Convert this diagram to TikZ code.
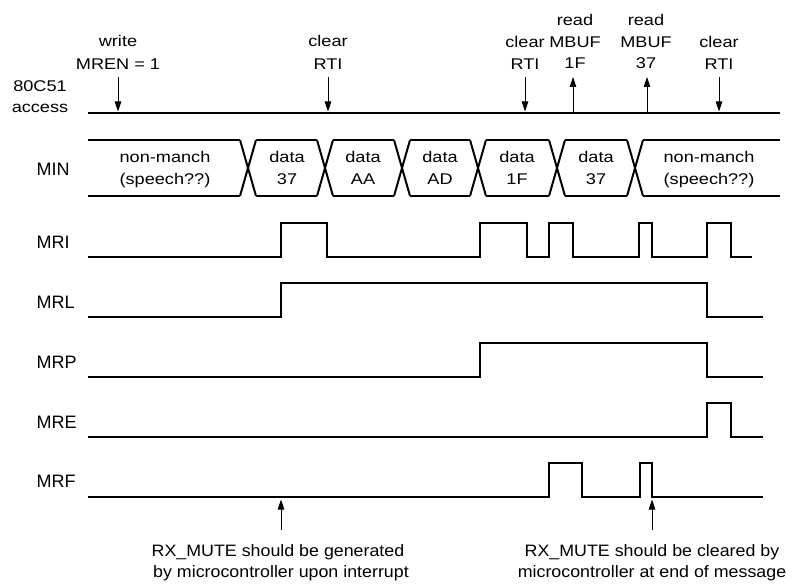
\documentclass[tikz,border=0pt]{standalone}
\usepackage{fontspec}
\setmainfont{Liberation Sans}
\newfontfamily\annf{Liberation Sans}[FakeStretch=1.17]
\newfontfamily\botf{Liberation Sans}[FakeStretch=1.08]
\usetikzlibrary{arrows.meta}
\begin{document}
\begin{tikzpicture}[x=1pt,y=-1pt,
  sig/.style={line width=2pt, line join=miter, line cap=butt},
  ptr/.style={line width=0.9pt, -{Triangle[length=10pt,width=6.5pt]}},
  ann/.style={font=\annf\fontsize{15.5}{18}\selectfont, inner sep=0pt, anchor=base},
  bot/.style={font=\botf\fontsize{16.5}{18}\selectfont, inner sep=0pt, anchor=base},
  lbl/.style={font=\fontsize{18}{20}\selectfont, inner sep=0pt, anchor=base west}]
\useasboundingbox (0,0) rectangle (794,585);

% ---------- 80C51 access ----------
\node[ann] (acc1) at (40,92) {80C51};
\node[ann] (acc2) at (40,113) {access};
\draw[sig] (88,113) -- (780,113);

\node[ann] (w1) at (118,47) {write};
\node[ann] (w2) at (118,70) {MREN = 1};
\node[ann] (c1a) at (328,47) {clear};
\node[ann] (c1b) at (328,70) {RTI};
\node[ann] (c2a) at (525,48) {clear};
\node[ann] (c2b) at (525,70) {RTI};
\node[ann] (r1a) at (575,26) {read};
\node[ann] (r1b) at (575,48) {MBUF};
\node[ann] (r1c) at (575,69) {1F};
\node[ann] (r2a) at (646,26) {read};
\node[ann] (r2b) at (646,48) {MBUF};
\node[ann] (r2c) at (646,69) {37};
\node[ann] (c3a) at (719,48) {clear};
\node[ann] (c3b) at (719,70) {RTI};

\coordinate (aw0) at (118,77);  \coordinate (aw1) at (118,111.5);
\coordinate (ac10) at (328,77); \coordinate (ac11) at (328,111.5);
\coordinate (ac20) at (525,77); \coordinate (ac21) at (525,111.5);
\coordinate (ac30) at (719,77); \coordinate (ac31) at (719,111.5);
\coordinate (ar10) at (573,112); \coordinate (ar11) at (573,77);
\coordinate (ar20) at (647,112); \coordinate (ar21) at (647,77);
\draw[ptr] (aw0) -- (aw1);
\draw[ptr] (ac10) -- (ac11);
\draw[ptr] (ac20) -- (ac21);
\draw[ptr] (ac30) -- (ac31);
\draw[ptr] (ar10) -- (ar11);
\draw[ptr] (ar20) -- (ar21);

% ---------- MIN bus ----------
\node[lbl] (lmin) at (36.5,176) {MIN};
\def\bt{140}\def\bb{196}
\draw[sig] (88,\bt) -- (240,\bt) (88,\bb) -- (240,\bb);
\foreach \a/\b in {248/325,325/402,402/478,478/557,557/635}{
  \draw[sig] (\a+8,\bt) -- (\b-8,\bt) (\a+8,\bb) -- (\b-8,\bb);
}
\draw[sig] (643,\bt) -- (780,\bt) (643,\bb) -- (780,\bb);
\foreach \c in {248,325,402,478,557,635}{
  \draw[sig] (\c-8,\bt) -- (\c+8,\bb) (\c-8,\bb) -- (\c+8,\bt);
}
\node[ann] (m1a) at (165,163) {non-manch};
\node[ann] (m1b) at (165,185) {(speech??)};
\node[ann] (m2a) at (287,163) {data};
\node[ann] (m2b) at (287,185) {37};
\node[ann] (m3a) at (363,163) {data};
\node[ann] (m3b) at (363,185) {AA};
\node[ann] (m4a) at (440,163) {data};
\node[ann] (m4b) at (440,185) {AD};
\node[ann] (m5a) at (517,163) {data};
\node[ann] (m5b) at (517,185) {1F};
\node[ann] (m6a) at (596,163) {data};
\node[ann] (m6b) at (596,185) {37};
\node[ann] (m7a) at (709,163) {non-manch};
\node[ann] (m7b) at (709,185) {(speech??)};

% ---------- MRI ----------
\node[lbl] (lmri) at (36.5,248) {MRI};
\draw[sig] (88,257) -- (281,257) -- (281,223) -- (327,223) -- (327,257)
  -- (480,257) -- (480,223) -- (527,223) -- (527,257)
  -- (549,257) -- (549,223) -- (573,223) -- (573,257)
  -- (639,257) -- (639,223) -- (652,223) -- (652,257)
  -- (707,257) -- (707,223) -- (731,223) -- (731,257) -- (752,257);

% ---------- MRL ----------
\node[lbl] (lmrl) at (36.5,308) {MRL};
\draw[sig] (88,317) -- (281,317) -- (281,283) -- (707,283) -- (707,317) -- (763,317);

% ---------- MRP ----------
\node[lbl] (lmrp) at (36.5,368) {MRP};
\draw[sig] (88,377) -- (480,377) -- (480,343) -- (707,343) -- (707,377) -- (763,377);

% ---------- MRE ----------
\node[lbl] (lmre) at (36.5,428) {MRE};
\draw[sig] (88,437) -- (707,437) -- (707,403) -- (731,403) -- (731,437) -- (763,437);

% ---------- MRF ----------
\node[lbl] (lmrf) at (36.5,487) {MRF};
\draw[sig] (88,497) -- (549,497) -- (549,463) -- (582,463) -- (582,497)
  -- (640,497) -- (640,463) -- (652,463) -- (652,497) -- (763,497);

% ---------- bottom notes ----------
\coordinate (b10) at (281,530); \coordinate (b11) at (281,499.5);
\coordinate (b20) at (652,530); \coordinate (b21) at (652,499.5);
\draw[ptr] (b10) -- (b11);
\draw[ptr] (b20) -- (b21);
\node[bot] (n1a) at (278,556) {RX\_MUTE should be generated};
\node[bot] (n1b) at (281,577) {by microcontroller upon interrupt};
\node[bot] (n2a) at (652,556) {RX\_MUTE should be cleared by};
\node[bot] (n2b) at (652,577) {microcontroller at end of message};
\end{tikzpicture}
\end{document}
